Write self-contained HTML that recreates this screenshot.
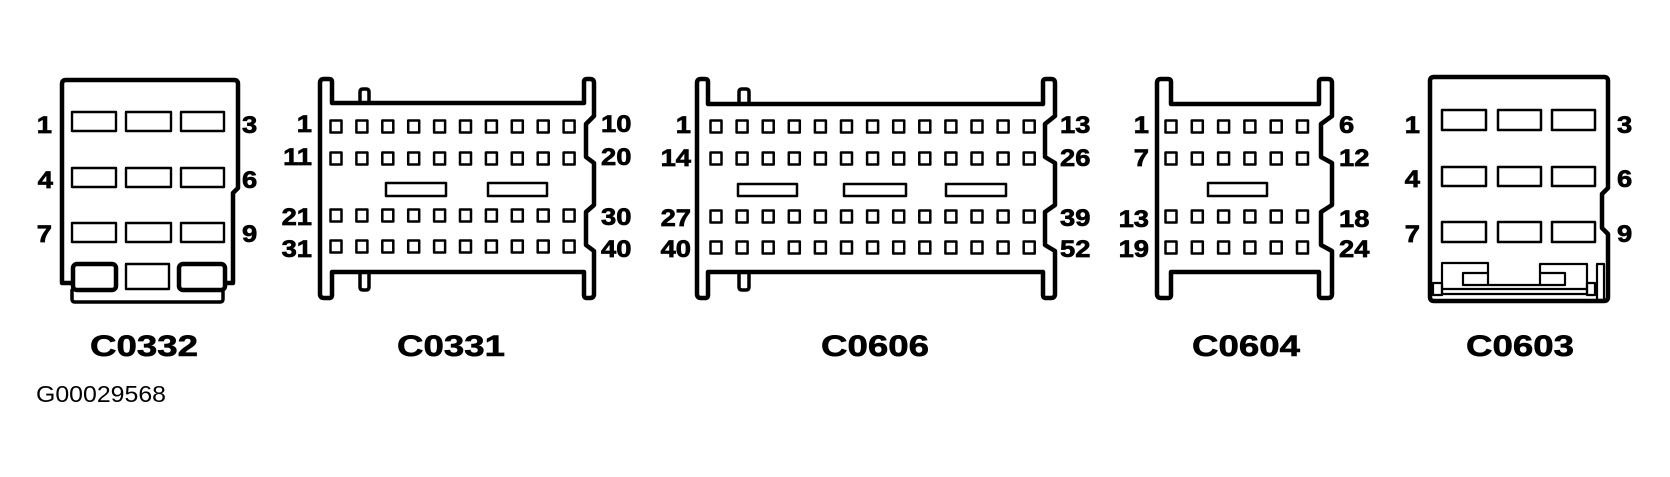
<!DOCTYPE html>
<html>
<head>
<meta charset="utf-8">
<style>
  html,body{margin:0;padding:0;background:#fff;}
  body{width:1670px;height:477px;overflow:hidden;}
  svg{display:block;}
  .lb{font-family:"Liberation Sans",Arial,sans-serif;font-weight:bold;font-size:24px;fill:#000;stroke:#000;stroke-width:0.7px;}
  .big{font-family:"Liberation Sans",Arial,sans-serif;font-weight:bold;font-size:30px;fill:#000;stroke:#000;stroke-width:0.6px;}
  .code{font-family:"Liberation Sans",Arial,sans-serif;font-weight:normal;font-size:23px;fill:#000;}
</style>
</head>
<body>
<svg width="1670" height="477" viewBox="0 0 1670 477" xmlns="http://www.w3.org/2000/svg">
  <rect x="0" y="0" width="1670" height="477" fill="#fff"/>

  <!-- ================= C0332 ================= -->
  <g fill="none" stroke="#000" stroke-linejoin="round" stroke-linecap="round">
    <path stroke-width="4.5" d="M72,283 L62,283 L62,84 Q62,80 66,80 L234,80 Q238,80 238,84 L238,188 L233,193 L233,283 L226,283"/>
    <g stroke-width="2.4">
      <rect x="72" y="112" width="44" height="19"/>
      <rect x="126" y="112" width="45" height="19"/>
      <rect x="181" y="112" width="43" height="19"/>
      <rect x="72" y="168" width="44" height="19"/>
      <rect x="126" y="168" width="45" height="19"/>
      <rect x="181" y="168" width="43" height="19"/>
      <rect x="72" y="223" width="44" height="19"/>
      <rect x="126" y="223" width="45" height="19"/>
      <rect x="181" y="223" width="43" height="19"/>
      <rect x="126" y="264" width="43" height="25"/>
    </g>
    <rect x="73" y="264" width="43" height="26" rx="4" stroke-width="4.5"/>
    <rect x="179" y="264" width="46" height="26" rx="4" stroke-width="4.5"/>
    <path stroke-width="3.5" d="M72,290 L72,299 Q72,302 75,302 L220,302 Q223,302 223,299 L223,290"/>
  </g>
  <text class="lb" text-anchor="end" transform="translate(52,133) scale(1.14,1)">1</text>
  <text class="lb" text-anchor="end" transform="translate(53,188) scale(1.14,1)">4</text>
  <text class="lb" text-anchor="end" transform="translate(52,242) scale(1.14,1)">7</text>
  <text class="lb" transform="translate(242,133) scale(1.14,1)">3</text>
  <text class="lb" transform="translate(242,188) scale(1.14,1)">6</text>
  <text class="lb" transform="translate(242,242) scale(1.14,1)">9</text>
  <text class="big" x="144" y="356" text-anchor="middle" textLength="108" lengthAdjust="spacingAndGlyphs">C0332</text>

  <!-- ================= C0331 ================= -->
  <g fill="none" stroke="#000" stroke-linejoin="round" stroke-linecap="round">
    <path stroke-width="4.5" d="M320,83 Q320,79 324,79 L329,79 Q332,79 332,82 L332,103 L584,103 L584,82 Q584,79 587,79 L590,79 Q594,79 594,83 L594,116 L586,124 L586,157 L594,163 L594,205 L586,212 L586,245 L594,251 L594,294 Q594,298 590,298 L587,298 Q584,298 584,295 L584,272 L332,272 L332,295 Q332,298 329,298 L324,298 Q320,298 320,294 Z"/>
    <path stroke-width="3.5" d="M360,103 L360,92 Q360,89 363,89 L366,89 Q369,89 369,92 L369,103"/>
    <path stroke-width="3.5" d="M360,272 L360,287 Q360,290 363,290 L366,290 Q369,290 369,287 L369,272"/>
    <g stroke-width="2.5">
      <path transform="translate(0,120.5)" d="M330.5 0h11v12h-11zM356.4 0h11v12h-11zM382.3 0h11v12h-11zM408.2 0h11v12h-11zM434.1 0h11v12h-11zM460 0h11v12h-11zM485.9 0h11v12h-11zM511.8 0h11v12h-11zM537.7 0h11v12h-11zM563.6 0h11v12h-11z"/>
      <path transform="translate(0,152.5)" d="M330.5 0h11v12h-11zM356.4 0h11v12h-11zM382.3 0h11v12h-11zM408.2 0h11v12h-11zM434.1 0h11v12h-11zM460 0h11v12h-11zM485.9 0h11v12h-11zM511.8 0h11v12h-11zM537.7 0h11v12h-11zM563.6 0h11v12h-11z"/>
      <path transform="translate(0,209.5)" d="M330.5 0h11v12h-11zM356.4 0h11v12h-11zM382.3 0h11v12h-11zM408.2 0h11v12h-11zM434.1 0h11v12h-11zM460 0h11v12h-11zM485.9 0h11v12h-11zM511.8 0h11v12h-11zM537.7 0h11v12h-11zM563.6 0h11v12h-11z"/>
      <path transform="translate(0,240.5)" d="M330.5 0h11v12h-11zM356.4 0h11v12h-11zM382.3 0h11v12h-11zM408.2 0h11v12h-11zM434.1 0h11v12h-11zM460 0h11v12h-11zM485.9 0h11v12h-11zM511.8 0h11v12h-11zM537.7 0h11v12h-11zM563.6 0h11v12h-11z"/>
      <rect x="386" y="183" width="60" height="13"/>
      <rect x="488" y="183" width="59" height="13"/>
    </g>
  </g>
  <text class="lb" text-anchor="end" transform="translate(312,132) scale(1.14,1)">1</text>
  <text class="lb" text-anchor="end" transform="translate(312,165) scale(1.14,1)">11</text>
  <text class="lb" text-anchor="end" transform="translate(312,225) scale(1.14,1)">21</text>
  <text class="lb" text-anchor="end" transform="translate(312,257) scale(1.14,1)">31</text>
  <text class="lb" transform="translate(601,132) scale(1.14,1)">10</text>
  <text class="lb" transform="translate(601,165) scale(1.14,1)">20</text>
  <text class="lb" transform="translate(601,225) scale(1.14,1)">30</text>
  <text class="lb" transform="translate(601,257) scale(1.14,1)">40</text>
  <text class="big" x="451" y="356" text-anchor="middle" textLength="108" lengthAdjust="spacingAndGlyphs">C0331</text>

  <!-- ================= C0606 ================= -->
  <g fill="none" stroke="#000" stroke-linejoin="round" stroke-linecap="round">
    <path stroke-width="4.5" d="M697,83 Q697,79 701,79 L705,79 Q708,79 708,82 L708,104 L1043,104 L1043,82 Q1043,79 1046,79 L1051,79 Q1055,79 1055,83 L1055,116 L1045,124 L1045,157 L1055,163 L1055,205 L1045,212 L1045,245 L1055,251 L1055,294 Q1055,298 1051,298 L1046,298 Q1043,298 1043,295 L1043,272 L708,272 L708,295 Q708,298 705,298 L701,298 Q697,298 697,294 Z"/>
    <path stroke-width="3.5" d="M739,104 L739,92 Q739,89 742,89 L746,89 Q749,89 749,92 L749,104"/>
    <path stroke-width="3.5" d="M739,272 L739,287 Q739,290 742,290 L746,290 Q749,290 749,287 L749,272"/>
    <g stroke-width="2.5">
      <path transform="translate(0,120.5)" d="M710.5 0h11v12h-11zM736.6 0h11v12h-11zM762.7 0h11v12h-11zM788.8 0h11v12h-11zM814.9 0h11v12h-11zM841 0h11v12h-11zM867.1 0h11v12h-11zM893.2 0h11v12h-11zM919.3 0h11v12h-11zM945.4 0h11v12h-11zM971.5 0h11v12h-11zM997.6 0h11v12h-11zM1023.7 0h11v12h-11z"/>
      <path transform="translate(0,152.5)" d="M710.5 0h11v12h-11zM736.6 0h11v12h-11zM762.7 0h11v12h-11zM788.8 0h11v12h-11zM814.9 0h11v12h-11zM841 0h11v12h-11zM867.1 0h11v12h-11zM893.2 0h11v12h-11zM919.3 0h11v12h-11zM945.4 0h11v12h-11zM971.5 0h11v12h-11zM997.6 0h11v12h-11zM1023.7 0h11v12h-11z"/>
      <path transform="translate(0,210.5)" d="M710.5 0h11v12h-11zM736.6 0h11v12h-11zM762.7 0h11v12h-11zM788.8 0h11v12h-11zM814.9 0h11v12h-11zM841 0h11v12h-11zM867.1 0h11v12h-11zM893.2 0h11v12h-11zM919.3 0h11v12h-11zM945.4 0h11v12h-11zM971.5 0h11v12h-11zM997.6 0h11v12h-11zM1023.7 0h11v12h-11z"/>
      <path transform="translate(0,241.5)" d="M710.5 0h11v12h-11zM736.6 0h11v12h-11zM762.7 0h11v12h-11zM788.8 0h11v12h-11zM814.9 0h11v12h-11zM841 0h11v12h-11zM867.1 0h11v12h-11zM893.2 0h11v12h-11zM919.3 0h11v12h-11zM945.4 0h11v12h-11zM971.5 0h11v12h-11zM997.6 0h11v12h-11zM1023.7 0h11v12h-11z"/>
      <rect x="738" y="184" width="59" height="12"/>
      <rect x="844" y="184" width="62" height="12"/>
      <rect x="946" y="184" width="60" height="12"/>
    </g>
  </g>
  <text class="lb" text-anchor="end" transform="translate(691,133) scale(1.14,1)">1</text>
  <text class="lb" text-anchor="end" transform="translate(691,166) scale(1.14,1)">14</text>
  <text class="lb" text-anchor="end" transform="translate(691,226) scale(1.14,1)">27</text>
  <text class="lb" text-anchor="end" transform="translate(691,257) scale(1.14,1)">40</text>
  <text class="lb" transform="translate(1060,133) scale(1.14,1)">13</text>
  <text class="lb" transform="translate(1060,166) scale(1.14,1)">26</text>
  <text class="lb" transform="translate(1060,226) scale(1.14,1)">39</text>
  <text class="lb" transform="translate(1060,257) scale(1.14,1)">52</text>
  <text class="big" x="875" y="356" text-anchor="middle" textLength="108" lengthAdjust="spacingAndGlyphs">C0606</text>

  <!-- ================= C0604 ================= -->
  <g fill="none" stroke="#000" stroke-linejoin="round" stroke-linecap="round">
    <path stroke-width="4.5" d="M1157,83 Q1157,79 1161,79 L1168,79 Q1171,79 1171,82 L1171,104 L1319,104 L1319,82 Q1319,79 1322,79 L1328,79 Q1332,79 1332,83 L1332,116 L1321,124 L1321,157 L1332,163 L1332,205 L1321,212 L1321,245 L1332,251 L1332,294 Q1332,298 1328,298 L1322,298 Q1319,298 1319,295 L1319,272 L1171,272 L1171,295 Q1171,298 1168,298 L1161,298 Q1157,298 1157,294 Z"/>
    <g stroke-width="2.5">
      <path transform="translate(0,120.5)" d="M1165.5 0h11v12h-11zM1191.8 0h11v12h-11zM1218.1 0h11v12h-11zM1244.4 0h11v12h-11zM1270.7 0h11v12h-11zM1297 0h11v12h-11z"/>
      <path transform="translate(0,152.5)" d="M1165.5 0h11v12h-11zM1191.8 0h11v12h-11zM1218.1 0h11v12h-11zM1244.4 0h11v12h-11zM1270.7 0h11v12h-11zM1297 0h11v12h-11z"/>
      <path transform="translate(0,210.5)" d="M1165.5 0h11v12h-11zM1191.8 0h11v12h-11zM1218.1 0h11v12h-11zM1244.4 0h11v12h-11zM1270.7 0h11v12h-11zM1297 0h11v12h-11z"/>
      <path transform="translate(0,241.5)" d="M1165.5 0h11v12h-11zM1191.8 0h11v12h-11zM1218.1 0h11v12h-11zM1244.4 0h11v12h-11zM1270.7 0h11v12h-11zM1297 0h11v12h-11z"/>
      <rect x="1208" y="183" width="59" height="13"/>
    </g>
  </g>
  <text class="lb" text-anchor="end" transform="translate(1149,133) scale(1.14,1)">1</text>
  <text class="lb" text-anchor="end" transform="translate(1149,166) scale(1.14,1)">7</text>
  <text class="lb" text-anchor="end" transform="translate(1149,227) scale(1.14,1)">13</text>
  <text class="lb" text-anchor="end" transform="translate(1149,257) scale(1.14,1)">19</text>
  <text class="lb" transform="translate(1339,133) scale(1.14,1)">6</text>
  <text class="lb" transform="translate(1339,166) scale(1.14,1)">12</text>
  <text class="lb" transform="translate(1339,227) scale(1.14,1)">18</text>
  <text class="lb" transform="translate(1339,257) scale(1.14,1)">24</text>
  <text class="big" x="1246" y="356" text-anchor="middle" textLength="108" lengthAdjust="spacingAndGlyphs">C0604</text>

  <!-- ================= C0603 ================= -->
  <g fill="none" stroke="#000" stroke-linejoin="round" stroke-linecap="round">
    <path stroke-width="4.5" d="M1430,81 Q1430,77 1434,77 L1604,77 Q1608,77 1608,81 L1608,188 L1602,194 L1602,228 L1608,234 L1608,297 Q1608,301 1604,301 L1434,301 Q1430,301 1430,297 Z"/>
    <g stroke-width="2.5">
      <rect x="1442" y="110" width="44" height="20"/>
      <rect x="1498" y="110" width="43" height="20"/>
      <rect x="1552" y="110" width="43" height="20"/>
      <rect x="1442" y="167" width="44" height="19"/>
      <rect x="1498" y="167" width="43" height="19"/>
      <rect x="1552" y="167" width="43" height="19"/>
      <rect x="1442" y="222" width="44" height="20"/>
      <rect x="1498" y="222" width="43" height="20"/>
      <rect x="1552" y="222" width="43" height="20"/>
    </g>
    <g stroke-width="2.2">
      <path d="M1442,289 L1442,263 L1488,263 L1488,273"/>
      <rect x="1463" y="273" width="25" height="12"/>
      <path d="M1540,273 L1540,264 L1587,264 L1587,289"/>
      <rect x="1540" y="273" width="25" height="12"/>
      <line x1="1488" y1="285" x2="1540" y2="285"/>
      <rect x="1442" y="289" width="145" height="5"/>
      <rect x="1433" y="283" width="9" height="12"/>
      <rect x="1587" y="283" width="8" height="12"/>
      <rect x="1597" y="264" width="7" height="36"/>
    </g>
  </g>
  <text class="lb" text-anchor="end" transform="translate(1420,133) scale(1.14,1)">1</text>
  <text class="lb" text-anchor="end" transform="translate(1420,187) scale(1.14,1)">4</text>
  <text class="lb" text-anchor="end" transform="translate(1420,242) scale(1.14,1)">7</text>
  <text class="lb" transform="translate(1617,133) scale(1.14,1)">3</text>
  <text class="lb" transform="translate(1617,187) scale(1.14,1)">6</text>
  <text class="lb" transform="translate(1617,242) scale(1.14,1)">9</text>
  <text class="big" x="1520" y="356" text-anchor="middle" textLength="108" lengthAdjust="spacingAndGlyphs">C0603</text>

  <text class="code" x="36" y="402" textLength="130" lengthAdjust="spacingAndGlyphs">G00029568</text>
</svg>
</body>
</html>
